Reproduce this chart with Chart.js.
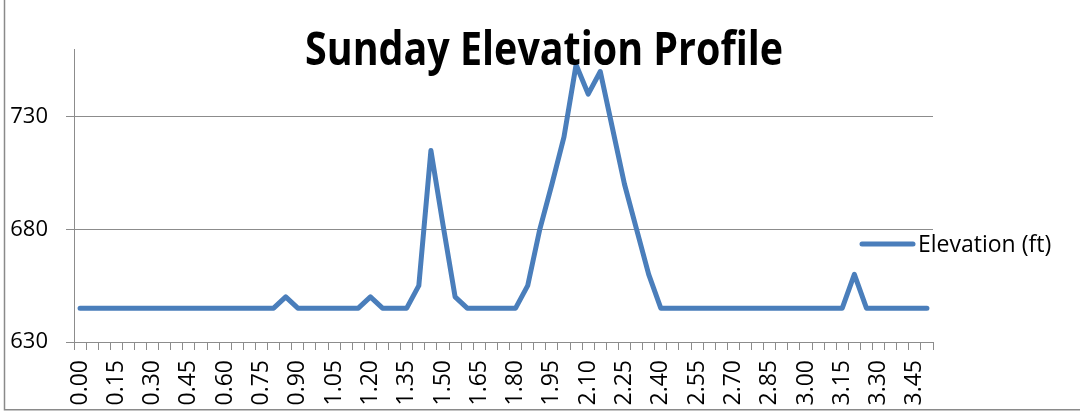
<!DOCTYPE html>
<html>
<head>
<meta charset="utf-8">
<script src="https://cdn.jsdelivr.net/npm/chart.js@4/dist/chart.umd.min.js"></script>
<style>
  html, body { margin: 0; padding: 0; background: #ffffff; }
  #wrap { width: 1080px; height: 413px; position: relative; }
</style>
</head>
<body>
<div id="wrap"><canvas id="c" width="1080" height="413"></canvas></div>
<script>
// ---- data ----
const titleText = "Sunday Elevation Profile";
const seriesName = "Elevation (ft)";
const distances = [
  "0.00","0.05","0.10","0.15","0.20","0.25","0.30","0.35","0.40","0.45",
  "0.50","0.55","0.60","0.65","0.70","0.75","0.80","0.85","0.90","0.95",
  "1.00","1.05","1.10","1.15","1.20","1.25","1.30","1.35","1.40","1.45",
  "1.50","1.55","1.60","1.65","1.70","1.75","1.80","1.85","1.90","1.95",
  "2.00","2.05","2.10","2.15","2.20","2.25","2.30","2.35","2.40","2.45",
  "2.50","2.55","2.60","2.65","2.70","2.75","2.80","2.85","2.90","2.95",
  "3.00","3.05","3.10","3.15","3.20","3.25","3.30","3.35","3.40","3.45",
  "3.50"
];
const elevation = [
  645,645,645,645,645,645,645,645,645,645,
  645,645,645,645,645,645,645,650,645,645,
  645,645,645,645,650,645,645,645,655,715,
  682,650,645,645,645,645,645,655,680,700,
  721,753,740,750,725,700,680,660,645,645,
  645,645,645,645,645,645,645,645,645,645,
  645,645,645,645,660,645,645,645,645,645,
  645
];
const yTicks = [630, 680, 730];
const yMin = 630;
const yMax = 760;
const labelEvery = 3;

// ---- styles ----
const LINE_COLOR = '#4a7ebb';
const GRID_COLOR = '#8c8c8c';
const FONT = '"Open Sans", "Liberation Sans", sans-serif';

const frame = {
  id: 'frame',
  beforeDraw(chart) {
    const ctx = chart.ctx;
    ctx.save();
    ctx.fillStyle = '#ffffff';
    ctx.fillRect(0, 0, chart.width, chart.height);
    ctx.strokeStyle = '#8a8a8a';
    ctx.lineWidth = 1.5;
    ctx.beginPath();
    ctx.moveTo(4.5, 0);
    ctx.lineTo(4.5, 409.75);
    ctx.lineTo(chart.width, 409.75);
    ctx.stroke();
    ctx.restore();
  }
};

// Excel-style overlay title and legend (they sit over the plot area)
const overlay = {
  id: 'overlay',
  afterDraw(chart) {
    const ctx = chart.ctx;
    const ds = chart.data.datasets[0];
    ctx.save();
    // title
    ctx.fillStyle = '#000000';
    ctx.font = 'bold 46px ' + FONT;
    ctx.textAlign = 'center';
    ctx.textBaseline = 'alphabetic';
    ctx.fillText(titleText, 544, 65, 478);
    // legend
    const y = 244;
    ctx.strokeStyle = ds.borderColor;
    ctx.lineWidth = ds.borderWidth;
    ctx.lineCap = 'round';
    ctx.beginPath();
    ctx.moveTo(862, y);
    ctx.lineTo(913, y);
    ctx.stroke();
    ctx.font = '23px ' + FONT;
    ctx.textBaseline = 'middle';
    ctx.textAlign = 'left';
    ctx.fillText(ds.label, 918, y + 1);
    ctx.restore();
  }
};

new Chart(document.getElementById('c'), {
  type: 'line',
  data: {
    labels: distances,
    datasets: [{
      label: seriesName,
      data: elevation,
      borderColor: LINE_COLOR,
      backgroundColor: LINE_COLOR,
      borderWidth: 5,
      borderJoinStyle: 'round',
      borderCapStyle: 'round',
      pointRadius: 0,
      pointHoverRadius: 0,
      tension: 0,
      fill: false
    }]
  },
  options: {
    responsive: false,
    animation: false,
    events: [],
    layout: { padding: { left: 0, right: 147, top: 49, bottom: 0 } },
    plugins: {
      legend: { display: false },
      tooltip: { enabled: false },
      title: { display: false }
    },
    scales: {
      x: {
        type: 'category',
        offset: true,
        afterFit: (scale) => { scale.paddingLeft = 0; scale.paddingRight = 0; scale.height = 71; },
        grid: {
          display: true,
          offset: true,
          drawOnChartArea: false,
          drawTicks: true,
          tickLength: 8,
          color: GRID_COLOR,
          lineWidth: 1
        },
        border: { display: true, color: GRID_COLOR, width: 1 },
        ticks: {
          autoSkip: false,
          maxRotation: 90,
          minRotation: 90,
          padding: 10,
          color: '#000000',
          font: { family: FONT, size: 23 },
          callback: function(value, index) {
            return index % labelEvery === 0 ? this.getLabelForValue(value) : '';
          }
        }
      },
      y: {
        min: yMin,
        max: yMax,
        afterBuildTicks: (axis) => { axis.ticks = yTicks.map(v => ({ value: v })); },
        afterFit: (scale) => { scale.paddingTop = 0; scale.paddingBottom = 0; scale.width = 74; },
        grid: {
          display: true,
          drawOnChartArea: true,
          drawTicks: true,
          tickLength: 8,
          color: GRID_COLOR,
          lineWidth: 1
        },
        border: { display: true, color: GRID_COLOR, width: 1 },
        ticks: {
          padding: 18,
          color: '#000000',
          font: { family: FONT, size: 22 }
        }
      }
    }
  },
  plugins: [frame, overlay]
});
</script>
</body>
</html>
